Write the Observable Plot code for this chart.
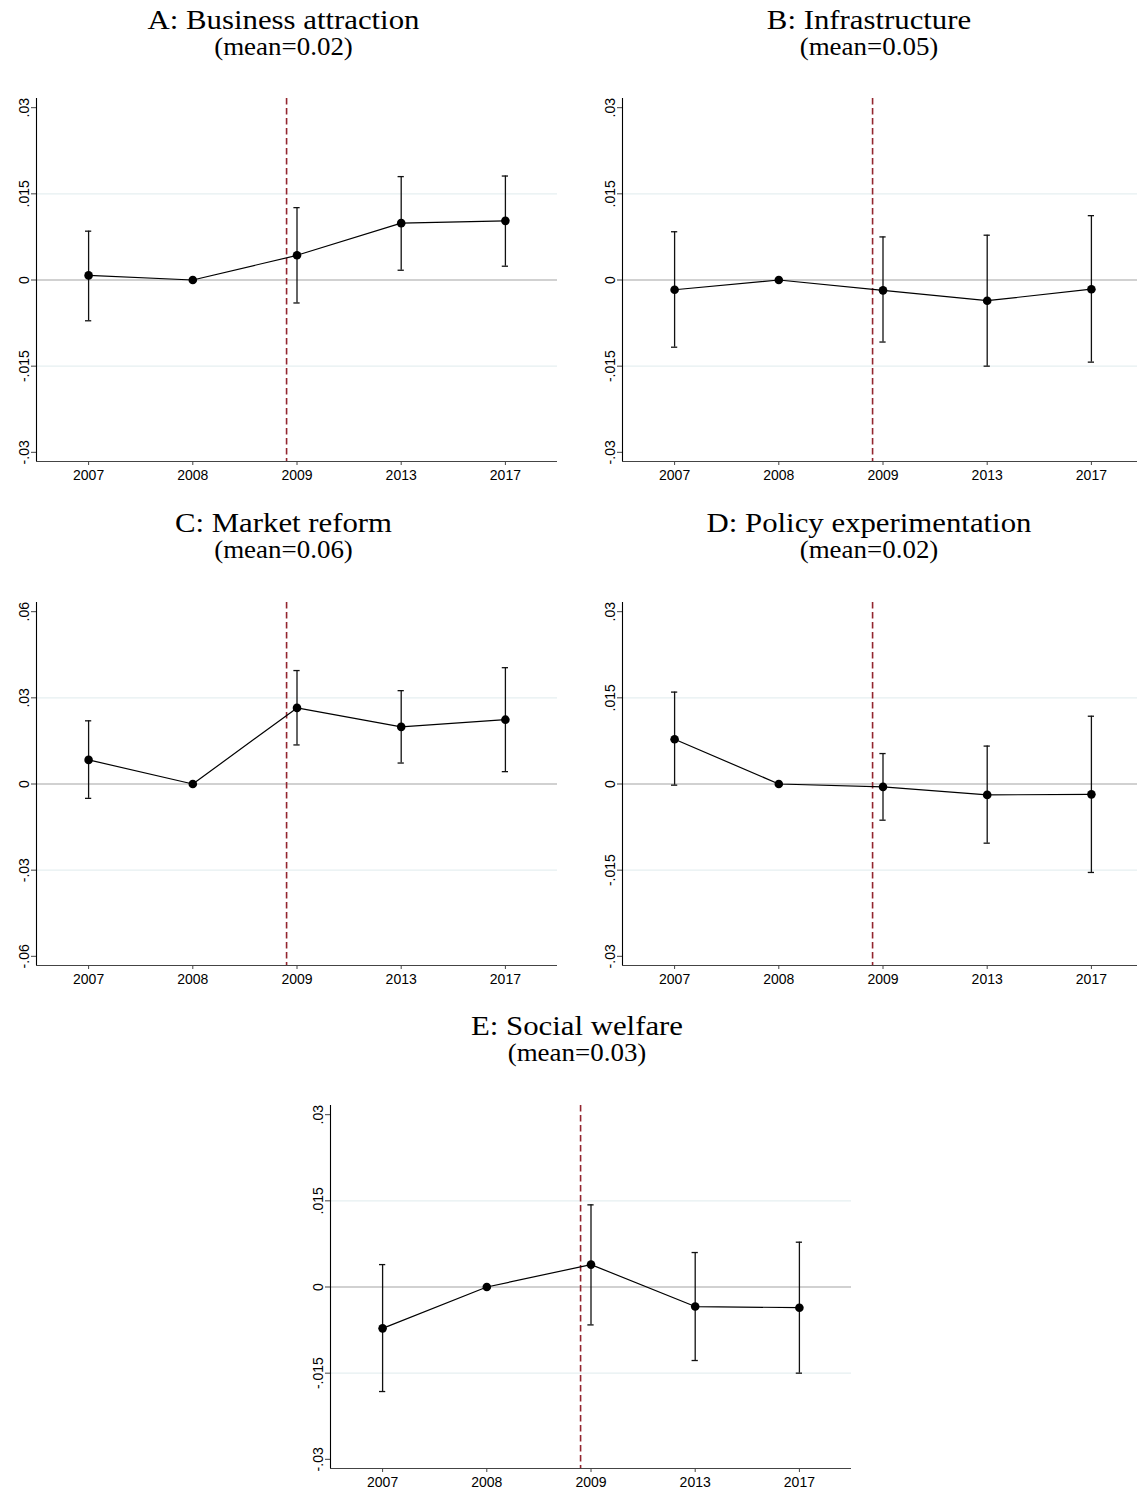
<!DOCTYPE html>
<html><head><meta charset="utf-8">
<script src="https://cdn.jsdelivr.net/npm/d3@7"></script>
<script src="https://cdn.jsdelivr.net/npm/@observablehq/plot@0.6"></script>
<style>
html,body{margin:0;padding:0;background:#fff;overflow:hidden;width:1137px;height:1490px}
#wrap{position:relative;width:1137px;height:1490px;overflow:hidden}
.panel{position:absolute}
</style></head><body><div id="wrap"></div>
<script>
// ---- data ----
const years = ["2007", "2008", "2009", "2013", "2017"];
const eventLineX = 1.9; // policy timing, between 2008 and 2009 (year index units)

const panelTitles = ["A: Business attraction", "B: Infrastructure", "C: Market reform", "D: Policy experimentation", "E: Social welfare"];
const panelMeans = ["(mean=0.02)", "(mean=0.05)", "(mean=0.06)", "(mean=0.02)", "(mean=0.03)"];

const coefA = [0.0008, 0, 0.0043, 0.0099, 0.0103];
const loA   = [-0.0071, null, -0.0040, 0.0017, 0.0024];
const hiA   = [0.0085, null, 0.0126, 0.0180, 0.0181];

const coefB = [-0.0017, 0, -0.0018, -0.0036, -0.0016];
const loB   = [-0.0117, null, -0.0108, -0.0150, -0.0143];
const hiB   = [0.0084, null, 0.0075, 0.0078, 0.0112];

const coefC = [0.0084, 0, 0.0265, 0.0199, 0.0224];
const loC   = [-0.0050, null, 0.0136, 0.0073, 0.0043];
const hiC   = [0.0220, null, 0.0395, 0.0325, 0.0405];

const coefD = [0.0078, 0, -0.0005, -0.0019, -0.0018];
const loD   = [-0.0002, null, -0.0063, -0.0103, -0.0154];
const hiD   = [0.0160, null, 0.0053, 0.0066, 0.0118];

const coefE = [-0.0072, 0, 0.0039, -0.0034, -0.0036];
const loE   = [-0.0182, null, -0.0066, -0.0128, -0.0150];
const hiE   = [0.0039, null, 0.0143, 0.0060, 0.0078];

const ticksSmall = [-0.03, -0.015, 0, 0.015, 0.03];
const ticksLarge = [-0.06, -0.03, 0, 0.03, 0.06];

// ---- drawing ----
const fmt = v => v === 0 ? "0" : (v < 0 ? "-" : "") + String(+Math.abs(v).toFixed(3)).replace(/^0/, "");
const capHalf = 0.03;

function panel(coef, lo, hi, ticks) {
  const data = years.map((yr, i) => ({i, yr, b: coef[i], lo: lo[i], hi: hi[i]}));
  const ci = data.filter(d => d.lo != null);
  const top = ticks[ticks.length - 1];
  const yMax = top * 1.0533;
  const grid = [ticks[1], ticks[3]];
  return Plot.plot({
    width: 557, height: 401,
    marginLeft: 36, marginRight: 0, marginTop: 8, marginBottom: 30,
    style: {fontFamily: "'Liberation Sans', Arial, sans-serif", fontSize: "14px", overflow: "visible", background: "transparent", color: "#000"},
    x: {domain: [-0.5, 4.5], axis: null},
    y: {domain: [-yMax, yMax], axis: null},
    marks: [
      Plot.ruleY(grid, {stroke: "#e6eff1", strokeWidth: 1.2}),
      Plot.ruleY([0], {stroke: "#c2c2c2", strokeWidth: 1.5}),
      Plot.ruleX([eventLineX], {stroke: "#93262f", strokeWidth: 1.6, strokeDasharray: "6.5,3.5"}),
      Plot.ruleX(ci, {x: "i", y1: "lo", y2: "hi", stroke: "#111", strokeWidth: 1.3}),
      Plot.ruleY(ci, {y: "lo", x1: d => d.i - capHalf, x2: d => d.i + capHalf, stroke: "#111", strokeWidth: 1.3}),
      Plot.ruleY(ci, {y: "hi", x1: d => d.i - capHalf, x2: d => d.i + capHalf, stroke: "#111", strokeWidth: 1.3}),
      Plot.line(data, {x: "i", y: "b", stroke: "#000", strokeWidth: 1.2}),
      Plot.dot(data, {x: "i", y: "b", r: 4.3, fill: "#000", stroke: "none"}),
      Plot.axisX({ticks: d3.range(years.length), tickFormat: i => years[i], tickSize: 4, tickPadding: 5, stroke: "#444", label: null}),
      Plot.axisY({ticks, tickFormat: fmt, tickSize: 5, tickPadding: 3, tickRotate: -90, stroke: "#444", label: null}),
      Plot.ruleX([-0.5], {stroke: "#000", strokeWidth: 1.1}),
      Plot.ruleY([-yMax], {stroke: "#444", strokeWidth: 1.1})
    ]
  });
}

const wrap = document.getElementById("wrap");
const rowPitch = 503.4;
const specs = [
  {c: coefA, l: loA, h: hiA, t: ticksSmall, left: 0, row: 0, cx: 283.5},
  {c: coefB, l: loB, h: hiB, t: ticksSmall, left: 586.3, row: 0, cx: 869},
  {c: coefC, l: loC, h: hiC, t: ticksLarge, left: 0, row: 1, cx: 283.5},
  {c: coefD, l: loD, h: hiD, t: ticksSmall, left: 586.3, row: 1, cx: 869},
  {c: coefE, l: loE, h: hiE, t: ticksSmall, left: 293.7, row: 2, cx: 577}
];

const ov = d3.select(wrap).append("svg")
  .attr("width", 1137).attr("height", 1490)
  .style("position", "absolute").style("left", "0px").style("top", "0px");

const serif = "'Liberation Serif', 'Times New Roman', serif";
specs.forEach((s, k) => {
  const el = panel(s.c, s.l, s.h, s.t);
  el.classList.add("panel");
  el.style.left = s.left + "px";
  el.style.top = (90.3 + s.row * rowPitch) + "px";
  wrap.appendChild(el);
  const y0 = s.row * rowPitch;
  ov.append("text").attr("transform", `translate(${s.cx},${y0 + 28.5}) scale(1.1,1)`)
    .attr("text-anchor", "middle").attr("font-family", serif)
    .attr("font-size", 28).attr("fill", "#000").text(panelTitles[k]);
  ov.append("text").attr("transform", `translate(${s.cx},${y0 + 54.5}) scale(1.1,1)`)
    .attr("text-anchor", "middle").attr("font-family", serif)
    .attr("font-size", 24.5).attr("fill", "#000").text(panelMeans[k]);
});
</script>
</body></html>
